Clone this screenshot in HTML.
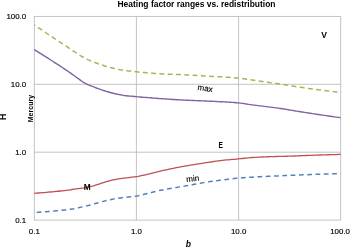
<!DOCTYPE html>
<html><head><meta charset="utf-8"><style>
html,body{margin:0;padding:0;background:#fff;}
svg{display:block}
text{font-family:"Liberation Sans",sans-serif;fill:#000}
</style></head><body>
<svg width="350" height="247" viewBox="0 0 350 247">
<rect width="350" height="247" fill="#fff"/>
<g stroke="#bcbcbc" stroke-width="0.9" fill="none">
<line x1="136.4" y1="16.4" x2="136.4" y2="220.1"/>
<line x1="238.6" y1="16.4" x2="238.6" y2="220.1"/>
<line x1="34.3" y1="84.3" x2="340.7" y2="84.3"/>
<line x1="34.3" y1="152.2" x2="340.7" y2="152.2"/>
<rect x="34.3" y="16.4" width="306.4" height="203.7"/>
</g>
<g fill="none" stroke-linejoin="round">
<path d="M34.3,24.90 L36.3,26.37 L38.3,27.73 L40.3,28.91 L42.3,30.13 L44.3,31.59 L46.3,33.00 L48.3,34.34 L50.3,35.65 L52.3,36.98 L54.3,38.42 L56.3,39.79 L58.3,41.01 L60.3,42.30 L62.3,43.61 L64.3,44.89 L66.3,46.21 L68.3,47.61 L70.3,49.03 L72.3,50.43 L74.3,51.62 L76.3,52.83 L78.3,54.31 L80.3,55.62 L82.3,56.77 L84.3,57.89 L86.3,58.95 L88.3,59.90 L90.3,60.77 L92.3,61.57 L94.3,62.30 L96.3,63.04 L98.3,63.76 L100.3,64.42 L102.3,65.07 L104.3,65.81 L106.3,66.52 L108.3,67.03 L110.3,67.47 L112.3,67.99 L114.3,68.50 L116.3,68.97 L118.3,69.38 L120.3,69.76 L122.3,70.09 L124.3,70.38 L126.3,70.65 L128.3,70.89 L130.3,71.12 L132.3,71.34 L134.3,71.56 L136.3,71.78 L138.3,72.00 L140.3,72.23 L142.3,72.43 L144.3,72.62 L146.3,72.80 L148.3,72.97 L150.3,73.14 L152.3,73.29 L154.3,73.44 L156.3,73.58 L158.3,73.70 L160.3,73.82 L162.3,73.91 L164.3,74.00 L166.3,74.08 L168.3,74.16 L170.3,74.23 L172.3,74.30 L174.3,74.37 L176.3,74.44 L178.3,74.53 L180.3,74.61 L182.3,74.71 L184.3,74.81 L186.3,74.91 L188.3,75.01 L190.3,75.12 L192.3,75.23 L194.3,75.35 L196.3,75.46 L198.3,75.58 L200.3,75.69 L202.3,75.81 L204.3,75.93 L206.3,76.05 L208.3,76.17 L210.3,76.29 L212.3,76.40 L214.3,76.51 L216.3,76.62 L218.3,76.73 L220.3,76.83 L222.3,76.95 L224.3,77.06 L226.3,77.18 L228.3,77.30 L230.3,77.44 L232.3,77.58 L234.3,77.73 L236.3,77.90 L238.3,78.07 L240.3,78.28 L242.3,78.54 L244.3,78.83 L246.3,79.14 L248.3,79.45 L250.3,79.74 L252.3,80.03 L254.3,80.32 L256.3,80.61 L258.3,80.90 L260.3,81.19 L262.3,81.48 L264.3,81.77 L266.3,82.07 L268.3,82.36 L270.3,82.66 L272.3,82.96 L274.3,83.25 L276.3,83.55 L278.3,83.85 L280.3,84.15 L282.3,84.46 L284.3,84.77 L286.3,85.08 L288.3,85.40 L290.3,85.71 L292.3,86.03 L294.3,86.34 L296.3,86.65 L298.3,86.95 L300.3,87.24 L302.3,87.53 L304.3,87.82 L306.3,88.10 L308.3,88.37 L310.3,88.65 L312.3,88.92 L314.3,89.19 L316.3,89.45 L318.3,89.72 L320.3,89.99 L322.3,90.25 L324.3,90.51 L326.3,90.78 L328.3,91.04 L330.3,91.30 L332.3,91.57 L334.3,91.84 L336.3,92.11 L338.3,92.38 L340.3,92.65 L340.7,92.70" stroke="#9bbb59" stroke-width="1.5" stroke-dasharray="4.9,3.4" stroke-dashoffset="3.8"/>
<path d="M34.3,49.70 L36.3,50.93 L38.3,52.16 L40.3,53.41 L42.3,54.66 L44.3,55.92 L46.3,57.18 L48.3,58.45 L50.3,59.73 L52.3,61.02 L54.3,62.31 L56.3,63.60 L58.3,64.90 L60.3,66.21 L62.3,67.52 L64.3,68.84 L66.3,70.18 L68.3,71.53 L70.3,72.91 L72.3,74.32 L74.3,75.77 L76.3,77.22 L78.3,78.67 L80.3,80.11 L82.3,81.51 L84.3,82.80 L86.3,83.92 L88.3,84.88 L90.3,85.68 L92.3,86.45 L94.3,87.22 L96.3,87.97 L98.3,88.69 L100.3,89.40 L102.3,90.10 L104.3,90.76 L106.3,91.38 L108.3,91.97 L110.3,92.53 L112.3,93.05 L114.3,93.53 L116.3,93.96 L118.3,94.37 L120.3,94.76 L122.3,95.14 L124.3,95.47 L126.3,95.72 L128.3,95.95 L130.3,96.14 L132.3,96.32 L134.3,96.50 L136.3,96.67 L138.3,96.85 L140.3,97.02 L142.3,97.19 L144.3,97.35 L146.3,97.51 L148.3,97.67 L150.3,97.82 L152.3,97.98 L154.3,98.13 L156.3,98.28 L158.3,98.44 L160.3,98.59 L162.3,98.74 L164.3,98.88 L166.3,99.03 L168.3,99.17 L170.3,99.31 L172.3,99.44 L174.3,99.57 L176.3,99.69 L178.3,99.81 L180.3,99.92 L182.3,100.02 L184.3,100.11 L186.3,100.21 L188.3,100.29 L190.3,100.38 L192.3,100.46 L194.3,100.54 L196.3,100.61 L198.3,100.69 L200.3,100.77 L202.3,100.85 L204.3,100.94 L206.3,101.02 L208.3,101.12 L210.3,101.22 L212.3,101.31 L214.3,101.41 L216.3,101.51 L218.3,101.60 L220.3,101.70 L222.3,101.80 L224.3,101.91 L226.3,102.02 L228.3,102.13 L230.3,102.26 L232.3,102.40 L234.3,102.54 L236.3,102.70 L238.3,102.87 L240.3,103.08 L242.3,103.36 L244.3,103.68 L246.3,104.02 L248.3,104.35 L250.3,104.64 L252.3,104.91 L254.3,105.17 L256.3,105.43 L258.3,105.67 L260.3,105.92 L262.3,106.16 L264.3,106.39 L266.3,106.63 L268.3,106.87 L270.3,107.12 L272.3,107.37 L274.3,107.62 L276.3,107.89 L278.3,108.16 L280.3,108.44 L282.3,108.74 L284.3,109.06 L286.3,109.39 L288.3,109.73 L290.3,110.07 L292.3,110.42 L294.3,110.76 L296.3,111.10 L298.3,111.43 L300.3,111.75 L302.3,112.06 L304.3,112.37 L306.3,112.68 L308.3,112.99 L310.3,113.29 L312.3,113.60 L314.3,113.90 L316.3,114.20 L318.3,114.50 L320.3,114.80 L322.3,115.09 L324.3,115.39 L326.3,115.68 L328.3,115.97 L330.3,116.25 L332.3,116.54 L334.3,116.82 L336.3,117.10 L338.3,117.37 L340.3,117.65 L340.7,117.70" stroke="#8064a2" stroke-width="1.4"/>
<path d="M34.3,193.30 L36.3,193.16 L38.3,193.01 L40.3,192.85 L42.3,192.69 L44.3,192.53 L46.3,192.36 L48.3,192.18 L50.3,192.00 L52.3,191.82 L54.3,191.63 L56.3,191.43 L58.3,191.23 L60.3,191.01 L62.3,190.79 L64.3,190.57 L66.3,190.33 L68.3,190.07 L70.3,189.80 L72.3,189.51 L74.3,189.22 L76.3,188.93 L78.3,188.64 L80.3,188.36 L82.3,188.09 L84.3,187.78 L86.3,187.42 L88.3,187.01 L90.3,186.56 L92.3,186.07 L94.3,185.52 L96.3,184.91 L98.3,184.29 L100.3,183.66 L102.3,182.99 L104.3,182.33 L106.3,181.73 L108.3,181.16 L110.3,180.62 L112.3,180.13 L114.3,179.71 L116.3,179.32 L118.3,178.97 L120.3,178.65 L122.3,178.37 L124.3,178.12 L126.3,177.88 L128.3,177.66 L130.3,177.43 L132.3,177.19 L134.3,176.93 L136.3,176.63 L138.3,176.29 L140.3,175.90 L142.3,175.48 L144.3,175.03 L146.3,174.57 L148.3,174.10 L150.3,173.63 L152.3,173.14 L154.3,172.63 L156.3,172.11 L158.3,171.60 L160.3,171.13 L162.3,170.68 L164.3,170.23 L166.3,169.80 L168.3,169.37 L170.3,168.95 L172.3,168.53 L174.3,168.13 L176.3,167.73 L178.3,167.34 L180.3,166.96 L182.3,166.58 L184.3,166.22 L186.3,165.86 L188.3,165.52 L190.3,165.18 L192.3,164.85 L194.3,164.53 L196.3,164.21 L198.3,163.90 L200.3,163.59 L202.3,163.28 L204.3,162.97 L206.3,162.67 L208.3,162.36 L210.3,162.05 L212.3,161.74 L214.3,161.41 L216.3,161.10 L218.3,160.82 L220.3,160.57 L222.3,160.35 L224.3,160.15 L226.3,159.96 L228.3,159.79 L230.3,159.62 L232.3,159.45 L234.3,159.28 L236.3,159.11 L238.3,158.92 L240.3,158.71 L242.3,158.49 L244.3,158.26 L246.3,158.03 L248.3,157.82 L250.3,157.65 L252.3,157.51 L254.3,157.39 L256.3,157.28 L258.3,157.17 L260.3,157.08 L262.3,156.99 L264.3,156.90 L266.3,156.83 L268.3,156.75 L270.3,156.68 L272.3,156.62 L274.3,156.56 L276.3,156.51 L278.3,156.45 L280.3,156.40 L282.3,156.35 L284.3,156.30 L286.3,156.24 L288.3,156.18 L290.3,156.12 L292.3,156.06 L294.3,155.99 L296.3,155.91 L298.3,155.84 L300.3,155.76 L302.3,155.68 L304.3,155.60 L306.3,155.52 L308.3,155.45 L310.3,155.37 L312.3,155.30 L314.3,155.22 L316.3,155.16 L318.3,155.09 L320.3,155.02 L322.3,154.96 L324.3,154.89 L326.3,154.83 L328.3,154.77 L330.3,154.70 L332.3,154.64 L334.3,154.58 L336.3,154.53 L338.3,154.47 L340.3,154.41 L340.7,154.40" stroke="#c0504d" stroke-width="1.3"/>
<path d="M34.3,212.60 L36.3,212.42 L38.3,212.25 L40.3,212.09 L42.3,211.93 L44.3,211.79 L46.3,211.66 L48.3,211.52 L50.3,211.38 L52.3,211.22 L54.3,211.05 L56.3,210.87 L58.3,210.68 L60.3,210.48 L62.3,210.27 L64.3,210.05 L66.3,209.81 L68.3,209.56 L70.3,209.28 L72.3,208.98 L74.3,208.65 L76.3,208.27 L78.3,207.83 L80.3,207.36 L82.3,206.88 L84.3,206.37 L86.3,205.89 L88.3,205.42 L90.3,204.92 L92.3,204.36 L94.3,203.81 L96.3,203.30 L98.3,202.78 L100.3,202.21 L102.3,201.65 L104.3,201.11 L106.3,200.59 L108.3,200.12 L110.3,199.68 L112.3,199.27 L114.3,198.87 L116.3,198.49 L118.3,198.14 L120.3,197.89 L122.3,197.68 L124.3,197.45 L126.3,197.24 L128.3,197.03 L130.3,196.81 L132.3,196.58 L134.3,196.32 L136.3,196.03 L138.3,195.69 L140.3,195.28 L142.3,194.82 L144.3,194.33 L146.3,193.82 L148.3,193.32 L150.3,192.83 L152.3,192.32 L154.3,191.80 L156.3,191.28 L158.3,190.78 L160.3,190.34 L162.3,189.93 L164.3,189.54 L166.3,189.17 L168.3,188.81 L170.3,188.46 L172.3,188.12 L174.3,187.79 L176.3,187.46 L178.3,187.13 L180.3,186.80 L182.3,186.46 L184.3,186.12 L186.3,185.76 L188.3,185.40 L190.3,185.04 L192.3,184.67 L194.3,184.31 L196.3,183.94 L198.3,183.58 L200.3,183.22 L202.3,182.87 L204.3,182.52 L206.3,182.19 L208.3,181.87 L210.3,181.55 L212.3,181.25 L214.3,180.97 L216.3,180.69 L218.3,180.42 L220.3,180.16 L222.3,179.90 L224.3,179.65 L226.3,179.39 L228.3,179.14 L230.3,178.90 L232.3,178.67 L234.3,178.46 L236.3,178.27 L238.3,178.10 L240.3,177.95 L242.3,177.80 L244.3,177.66 L246.3,177.53 L248.3,177.40 L250.3,177.27 L252.3,177.15 L254.3,177.04 L256.3,176.93 L258.3,176.82 L260.3,176.71 L262.3,176.61 L264.3,176.52 L266.3,176.42 L268.3,176.33 L270.3,176.23 L272.3,176.14 L274.3,176.05 L276.3,175.96 L278.3,175.88 L280.3,175.79 L282.3,175.70 L284.3,175.61 L286.3,175.52 L288.3,175.44 L290.3,175.35 L292.3,175.27 L294.3,175.19 L296.3,175.10 L298.3,175.02 L300.3,174.94 L302.3,174.86 L304.3,174.78 L306.3,174.71 L308.3,174.63 L310.3,174.56 L312.3,174.48 L314.3,174.41 L316.3,174.34 L318.3,174.27 L320.3,174.20 L322.3,174.14 L324.3,174.07 L326.3,174.01 L328.3,173.95 L330.3,173.88 L332.3,173.83 L334.3,173.77 L336.3,173.71 L338.3,173.66 L340.3,173.61 L340.7,173.60" stroke="#4f81bd" stroke-width="1.5" stroke-dasharray="4.7,3.6" stroke-dashoffset="5.9"/>
</g>
<text x="196.5" y="7" font-size="8.3" font-weight="bold" text-anchor="middle" textLength="158" lengthAdjust="spacingAndGlyphs">Heating factor ranges vs. redistribution</text>
<g font-size="7.9" text-anchor="end" stroke="#000" stroke-width="0.15">
<text x="26.2" y="19.3">100.0</text>
<text x="26.2" y="87.2">10.0</text>
<text x="26.2" y="155.1">1.0</text>
<text x="26.2" y="223.0">0.1</text>
</g>
<g font-size="7.9" text-anchor="middle" stroke="#000" stroke-width="0.15">
<text x="34.3" y="234.4">0.1</text>
<text x="136.4" y="234.4">1.0</text>
<text x="238.6" y="234.4">10.0</text>
<text x="340.1" y="234.4">100.0</text>
</g>
<text x="188.3" y="246.8" font-size="8.6" font-weight="bold" font-style="italic" text-anchor="middle">b</text>
<text transform="translate(6.4,116.8) rotate(-90)" font-size="8.8" font-weight="bold" text-anchor="middle">H</text>
<text transform="translate(32.6,108.6) rotate(-90)" font-size="7" font-weight="bold" text-anchor="middle">Mercury</text>
<text x="324.1" y="38.3" font-size="8.6" font-weight="bold" text-anchor="middle">V</text>
<text transform="translate(220.8,148.2) scale(0.8,1)" font-size="8.2" font-weight="bold" text-anchor="middle">E</text>
<text x="87.3" y="189.8" font-size="8.3" font-weight="bold" text-anchor="middle">M</text>
<text transform="translate(204.8,91) rotate(9)" font-size="8" text-anchor="middle" stroke="#000" stroke-width="0.15">max</text>
<text transform="translate(193,181.3) rotate(-6)" font-size="8" text-anchor="middle" stroke="#000" stroke-width="0.15">min</text>
</svg>
</body></html>
